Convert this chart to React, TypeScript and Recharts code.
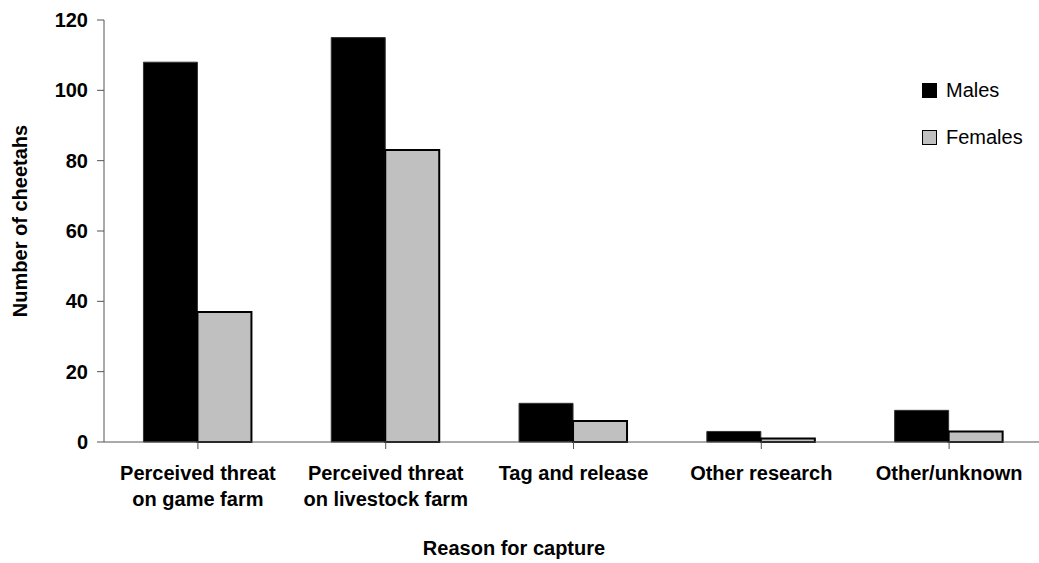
import React from "react";
import { BarChart, Bar, XAxis, YAxis, Label } from "recharts";

const reasons = [
  ["Perceived threat", "on game farm"],
  ["Perceived threat", "on livestock farm"],
  ["Tag and release"],
  ["Other research"],
  ["Other/unknown"],
];
const males = [108, 115, 11, 3, 9];
const females = [37, 83, 6, 1, 3];
const yTicks = [0, 20, 40, 60, 80, 100, 120];

const FONT = "Arial, 'Liberation Sans', sans-serif";

const data = reasons.map((lines, i) => ({
  reason: lines.join(" "),
  males: males[i],
  females: females[i],
}));

const legendItems = [
  { name: "Males", fill: "#000000" },
  { name: "Females", fill: "#c0c0c0" },
];

const XTick = ({ x, y, index }: any) => {
  const lines = reasons[index] || [];
  return (
    <text x={x} y={y} textAnchor="middle" fontFamily={FONT} fontWeight="bold" fontSize={20} fill="#000">
      {lines.map((line, i) => (
        <tspan key={i} x={x} dy={i === 0 ? 27 : 26}>
          {line}
        </tspan>
      ))}
    </text>
  );
};

const LegendBox = () => (
  <div style={{ position: "absolute", left: 922, top: 82, width: 120, height: 70, fontFamily: FONT, fontSize: 20 }}>
    {legendItems.map((item, i) => (
      <div key={item.name} style={{ position: "absolute", left: 0, top: i * 47, height: 16, display: "flex", alignItems: "center" }}>
        <div
          style={{
            width: 15,
            height: 15,
            boxSizing: "border-box",
            background: item.fill,
            border: "1.5px solid #000",
          }}
        />
        <span style={{ marginLeft: 9, lineHeight: "16px", color: "#000" }}>{item.name}</span>
      </div>
    ))}
  </div>
);

export default function App() {
  return (
    <div style={{ position: "absolute", left: 0, top: 0, width: 1039, height: 563, overflow: "hidden", background: "#fff" }}>
      <BarChart
        width={1046}
        height={563}
        data={data}
        margin={{ top: 20, right: 3, left: 0, bottom: 0 }}
        barCategoryGap="21%"
        barGap={0}
      >
        <XAxis
          dataKey="reason"
          height={121}
          tick={<XTick />}
          tickSize={7}
          tickMargin={4}
          interval={0}
          stroke="#555"
          tickLine={{ stroke: "#555" }}
          axisLine={{ stroke: "#555" }}
        >
          <Label
            content={() => (
              <text x={514} y={555} textAnchor="middle" fontFamily={FONT} fontWeight="bold" fontSize={20} fill="#000">
                Reason for capture
              </text>
            )}
          />
        </XAxis>
        <YAxis
          width={104}
          domain={[0, 120]}
          ticks={yTicks}
          tickSize={7}
          tickMargin={9}
          stroke="#555"
          tick={{ fontFamily: FONT, fontWeight: "bold", fontSize: 20, fill: "#000" }}
        >
          <Label
            content={({ viewBox }: any) => {
              const cx = 20;
              const cy = viewBox.y + viewBox.height / 2 - 10;
              return (
                <text
                  x={cx}
                  y={cy}
                  transform={`rotate(-90 ${cx} ${cy})`}
                  textAnchor="middle"
                  dominantBaseline="central"
                  fontFamily={FONT}
                  fontWeight="bold"
                  fontSize={20}
                  fill="#000"
                >
                  Number of cheetahs
                </text>
              );
            }}
          />
        </YAxis>
        <Bar dataKey="males" name="Males" fill="#000000" stroke="#333" strokeWidth={1} isAnimationActive={false} />
        <Bar dataKey="females" name="Females" fill="#c0c0c0" stroke="#000" strokeWidth={2} isAnimationActive={false} />
      </BarChart>
      <LegendBox />
    </div>
  );
}
